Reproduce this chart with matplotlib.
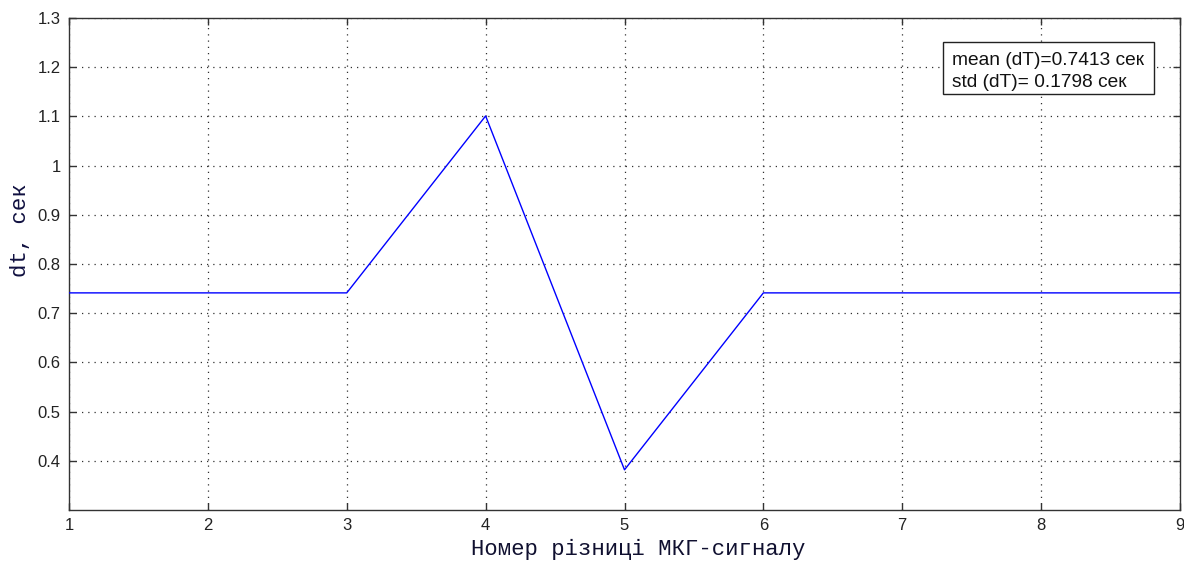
import matplotlib
matplotlib.use("Agg")
import matplotlib.pyplot as plt
from matplotlib.patches import Rectangle

# intervals between consecutive MKG peaks, seconds
signal_idx = [1, 2, 3, 4, 5, 6, 7, 8, 9]
dt_values = [0.7413, 0.7413, 0.7413, 1.1009, 0.3817, 0.7413, 0.7413, 0.7413, 0.7413]
mean_dt = 0.7413
std_dt = 0.1798

y_ticks = [0.4, 0.5, 0.6, 0.7, 0.8, 0.9, 1.0, 1.1, 1.2, 1.3]
y_tick_labels = ["0.4", "0.5", "0.6", "0.7", "0.8", "0.9", "1", "1.1", "1.2", "1.3"]

fig = plt.figure(figsize=(11.84, 5.62), dpi=100)
ax = fig.add_axes([0.0583, 0.0925, 0.9383, 0.8755])

ax.plot(signal_idx, dt_values, color="#0000ff", linewidth=1.0, zorder=3)

ax.set_xlim(1, 9)
ax.set_ylim(0.3, 1.3)
ax.set_xticks(signal_idx)
ax.set_yticks(y_ticks)
ax.set_yticklabels(y_tick_labels)

ax.grid(True, linestyle=(0, (1, 4)), color="#303030", linewidth=0.9)
ax.tick_params(direction="in", length=5, width=1, top=True, right=True,
               labelsize=12, labelcolor="#222222", color="#333333", pad=6)
for lbl in ax.get_xticklabels() + ax.get_yticklabels():
    lbl.set_family("Liberation Sans")
for sp in ax.spines.values():
    sp.set_color("#333333")
    sp.set_linewidth(1.0)

ax.set_xlabel("Номер різниці МКГ-сигналу", family="Liberation Mono",
              fontsize=16, color="#101030")
ax.xaxis.set_label_coords(0.512, -0.058)
ax.set_ylabel("dt, сек", family="Liberation Mono", fontsize=16,
              color="#101040")
ax.yaxis.set_label_coords(-0.034, 0.569)

# stats annotation box
ax.add_patch(Rectangle((0.7867, 0.8455), 0.1899, 0.1057, transform=ax.transAxes,
                       facecolor="white", edgecolor="#222222", linewidth=1.0,
                       zorder=4))
stat_lines = [f"mean (dT)={mean_dt:.4f} сек", f"std (dT)= {std_dt:.4f} сек"]
for y, line in zip([0.9045, 0.8604], stat_lines):
    ax.text(0.7948, y, line, transform=ax.transAxes, ha="left", va="baseline",
            family="Liberation Sans", fontsize=13.8, color="#111111", zorder=5)

fig.savefig("out.png", dpi=100)
